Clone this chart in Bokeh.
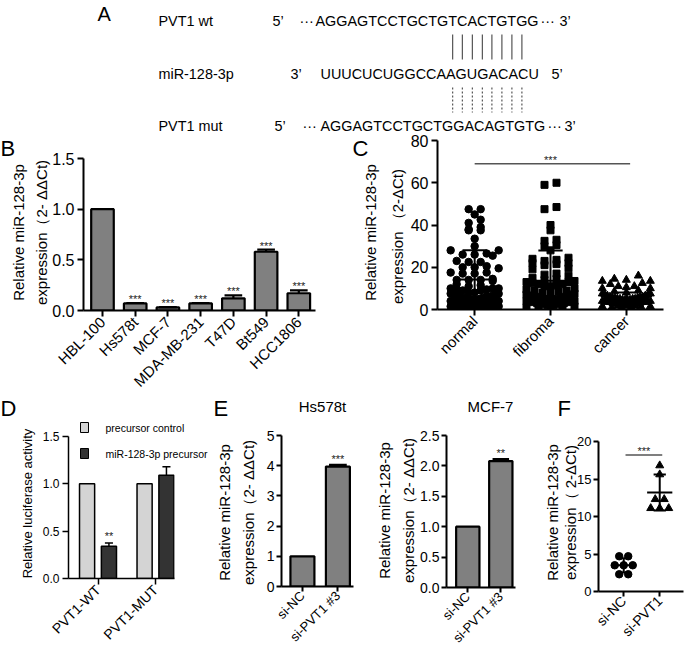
import math
from bokeh.plotting import figure
from bokeh.models import Range1d, FixedTicker, ColumnDataSource, PrintfTickFormatter
from bokeh.core.properties import value
from bokeh.embed import file_html
from bokeh.resources import INLINE

# ---------------- data ----------------
# Panel A
seq_row_labels = ["PVT1 wt", "miR-128-3p", "PVT1 mut"]
seq_wt = "AGGAGTCCTGCTGTCACTGTGG"
seq_mir = "UUUCUCUGGCCAAGUGACACU"
seq_mut = "AGGAGTCCTGCTGGACAGTGTG"
pair_idx = list(range(13, 21))

# Panel B
b_cells = ["HBL-100", "Hs578t", "MCF-7", "MDA-MB-231", "T47D", "Bt549", "HCC1806"]
b_vals = [1.0, 0.07, 0.03, 0.07, 0.12, 0.58, 0.17]
b_err = [0.0, 0.004, 0.004, 0.004, 0.03, 0.02, 0.028]
b_sig = ["", "***", "***", "***", "***", "***", "***"]
b_yticks = [0, 0.5, 1.0, 1.5]

# Panel C
c_groups = ["normal", "fibroma", "cancer"]
c_normal = [47.5, 47.5, 45, 42.5, 41, 39, 38, 37.5, 37.5, 33.5, 30, 28, 28, 26.5, 26, 26, 25.5,
            23, 22.5, 22.5, 20.5, 20, 20, 19.5, 17.5, 17.5, 17, 17, 14.5, 14, 14, 14, 13.5, 12, 11.5, 11,
            10, 10, 10, 9.5, 9.5, 9, 9, 8, 8, 7.5, 7.5, 7, 7, 6.5, 6.5, 6, 6, 6, 5.5, 5.5, 5, 5, 5,
            4.5, 4.5, 4, 4, 4, 3.5, 3.5, 3, 3, 3, 2.5, 2.5, 2, 2, 2, 1.5, 1.5, 1, 1, 1, 0.5, 0.5, 0.5, 0.5]
c_fibroma = [60, 59, 48.5, 47.5, 40, 37.5, 33, 32.5, 30.5, 30, 28, 24.5, 24, 23.5, 23, 22, 22, 21.5, 21,
             19.5, 19, 17, 16.5, 16, 15, 14.5, 14, 13.5, 13, 13, 12.5, 12, 12, 11.5, 11, 11,
             10, 9.5, 9, 9, 8.5, 8, 8, 7.5, 7, 7, 6.5, 6, 6, 5.5, 5.5, 5, 5, 4.5, 4.5, 4, 4,
             3.5, 3.5, 3, 3, 2.5, 2.5, 2, 2, 1.5, 1, 1, 0.5, 0.5]
c_cancer = [16, 14.5, 14, 13.5, 13.5, 12.5, 12, 11, 11, 10.5, 10, 10, 9, 8.5, 8, 7.5, 7.5, 7, 7, 6.5, 6.5,
            6, 6, 6, 5.5, 5.5, 5.5, 5, 5, 5, 5, 4.5, 4.5, 4.5, 4.5, 4, 4, 4, 4, 3.5, 3.5, 3.5, 3.5,
            3, 3, 3, 3, 2.5, 2.5, 2.5, 2, 2, 2, 2, 1.5, 1.5, 1.5, 1, 1, 1]
c_mean = [14.2, 13.6, 4.4]
c_sd = [13.8, 14.3, 3.6]
c_yticks = [0, 20, 40, 60, 80]
c_sig = "***"
c_sig_y = 69

# Panel D
d_groups = ["PVT1-WT", "PVT1-MUT"]
d_series = ["precursor control", "miR-128-3p precursor"]
d_colors = ["#d4d4d4", "#333333"]
d_ctrl = [1.0, 1.0]
d_mir = [0.34, 1.09]
d_mir_err = [0.035, 0.09]
d_sig = ["**", ""]
d_yticks = [0, 0.5, 1.0, 1.5]

# Panel E
e_titles = ["Hs578t", "MCF-7"]
e_groups = ["si-NC", "si-PVT1 #3"]
e1_vals = [1.0, 3.97]
e1_err = [0.0, 0.06]
e1_sig = ["", "***"]
e1_yticks = [0, 1, 2, 3, 4, 5]
e2_vals = [1.0, 2.08]
e2_err = [0.0, 0.03]
e2_sig = ["", "**"]
e2_yticks = [0, 0.5, 1.0, 1.5, 2.0, 2.5]

# Panel F
f_groups = ["si-NC", "si-PVT1"]
f_nc = [4.7, 4.7, 3.5, 3.5, 3.5, 2.3, 2.3]
f_pvt1 = [16.8, 15.6, 12.3, 12.3, 11.1, 11.1, 11.1]
f_mean = [3.5, 13.2]
f_sd = [0.95, 2.4]
f_yticks = [0, 5, 10, 15, 20]
f_sig = "***"
f_sig_y = 18.2

# ---------------- helpers ----------------
W, H = 685, 651
FONT = "Liberation Sans"


def panel(region, frame, xr, yr):
    rx0, ry0, rx1, ry1 = region
    fx0, fy0, fx1, fy1 = frame
    left, right, top, bottom = fx0 - rx0, rx1 - fx1, fy0 - ry0, ry1 - fy1
    fw, fh = fx1 - fx0, fy1 - fy0
    p = figure(width=rx1 - rx0, height=ry1 - ry0, frame_width=fw, frame_height=fh,
               min_border_left=left, min_border_right=right, min_border_top=top, min_border_bottom=bottom,
               x_range=Range1d(*xr), y_range=Range1d(*yr), output_backend="svg",
               toolbar_location=None, title=None)
    p.styles = {"position": "absolute", "left": f"{rx0}px", "top": f"{ry0}px"}
    p.grid.visible = False
    p.outline_line_color = None
    p.background_fill_color = "white"
    p.border_fill_color = "white"
    return p


def style_axes(p, xticks, xlabels, yticks, yfmt, ytick_fs, xtick_fs, lw=2.0, tick_out=6, standoff=3):
    xa, ya = p.xaxis[0], p.yaxis[0]
    for ax in (xa, ya):
        ax.axis_line_width = lw
        ax.axis_line_color = "black"
        ax.major_tick_line_width = lw
        ax.major_tick_line_color = "black"
        ax.major_tick_out = tick_out
        ax.major_tick_in = 0
        ax.minor_tick_out = 0
        ax.minor_tick_in = 0
        ax.major_label_text_color = "black"
        ax.major_label_text_font = FONT
        ax.major_label_standoff = standoff
    ya.ticker = FixedTicker(ticks=yticks)
    ya.formatter = PrintfTickFormatter(format=yfmt)
    ya.major_label_text_font_size = f"{ytick_fs}px"
    xa.ticker = FixedTicker(ticks=xticks)
    xa.major_label_overrides = {int(t): l for t, l in zip(xticks, xlabels)}
    xa.major_label_orientation = math.pi / 4
    xa.major_label_text_font_size = f"{xtick_fs}px"


def px_to_data_y(p, frame, px):
    return px * (p.y_range.end - p.y_range.start) / (frame[3] - frame[1])


def bars(p, xs, tops, width, fill, lw):
    src = ColumnDataSource(dict(x=xs, top=tops))
    return p.vbar(x="x", top="top", bottom=0, width=width, source=src, fill_color=fill,
                  line_color="black", line_width=lw)


def errbars(p, xs, tops, errs, capw, lw):
    sel = [(x, t, e) for x, t, e in zip(xs, tops, errs) if e > 0]
    src = ColumnDataSource(dict(x=[s[0] for s in sel], y0=[s[1] for s in sel],
                                y1=[s[1] + s[2] for s in sel],
                                xl=[s[0] - capw for s in sel], xr=[s[0] + capw for s in sel]))
    p.segment("x", "y0", "x", "y1", source=src, line_color="black", line_width=lw)
    p.segment("xl", "y1", "xr", "y1", source=src, line_color="black", line_width=lw)


def stars(p, xs, ys, texts, size):
    src = ColumnDataSource(dict(x=xs, y=ys, t=texts))
    p.text("x", "y", text="t", source=src, text_align="center", text_baseline="alphabetic",
           text_font=value(FONT), text_font_size=value(f"{size}px"), text_color="#222222")


def swarm(vals, center, bin_w, gmax_px, wmax_px, px_per_unit):
    rows = {}
    for v in vals:
        rows.setdefault(round(v / bin_w), []).append(v)
    xs, ys = [], []
    for k in sorted(rows):
        vs = sorted(rows[k])
        n = len(vs)
        gap = gmax_px if n < 2 else min(gmax_px, wmax_px / (n - 1))
        slots = sorted(range(n), key=lambda i: (abs(i - (n - 1) / 2), i))
        for v, slot in zip(vs, slots):
            xs.append(center + (slot - (n - 1) / 2) * gap / px_per_unit)
            ys.append(v)
    return xs, ys


def mean_sd(p, centers, means, sds, mw, cw, lw):
    lo = [max(m - s, 0) for m, s in zip(means, sds)]
    hi = [m + s for m, s in zip(means, sds)]
    p.segment(x0=[c - mw for c in centers], y0=means, x1=[c + mw for c in centers], y1=means,
              line_color="black", line_width=lw)
    p.segment(x0=centers, y0=lo, x1=centers, y1=hi, line_color="black", line_width=lw)
    p.segment(x0=[c - cw for c in centers], y0=hi, x1=[c + cw for c in centers], y1=hi,
              line_color="black", line_width=lw)
    p.segment(x0=[c - cw for c in centers], y0=lo, x1=[c + cw for c in centers], y1=lo,
              line_color="black", line_width=lw)


# ---------------- overlay figure for free text (page coordinates) ----------------
ov = figure(width=W, height=H, frame_width=W, frame_height=H, min_border=0,
            x_range=Range1d(0, W), y_range=Range1d(0, H), x_axis_type=None, y_axis_type=None,
            output_backend="svg", toolbar_location=None, title=None)
ov.styles = {"position": "absolute", "left": "0px", "top": "0px", "z-index": "5"}
ov.grid.visible = False
ov.outline_line_color = None
ov.background_fill_alpha = 0
ov.border_fill_alpha = 0


def otext(x, y, t, size, angle=0.0, align="left", baseline="middle"):
    ov.text(x=[x], y=[H - y], text=[t], angle=angle, text_align=align, text_baseline=baseline,
            text_font=value(FONT), text_font_size=value(f"{size}px"), text_color="black")


VERT = math.pi / 2

# ---------------- Panel A (drawn on the overlay) ----------------
AW = {"A": 0.667, "C": 0.722, "G": 0.778, "T": 0.611, "U": 0.722}
A_FS = 14.4
row_y = [20, 73, 125]
DOTS = "\u00b7\u00b7\u00b7"
otext(97, 2, "A", 20, baseline="top")
for lbl, ry in zip(seq_row_labels, row_y):
    otext(158, ry, lbl, A_FS)
for x, t in [(272, "5\u2019"), (299, DOTS), (315, seq_wt), (540, DOTS), (559, "3\u2019")]:
    otext(x, row_y[0], t, A_FS)
for x, t in [(290, "3\u2019"), (320, seq_mir), (551, "5\u2019")]:
    otext(x, row_y[1], t, A_FS)
for x, t in [(274, "5\u2019"), (302, DOTS), (320, seq_mut), (547, DOTS), (564, "3\u2019")]:
    otext(x, row_y[2], t, A_FS)
cum = [0.0]
for ch in seq_wt:
    cum.append(cum[-1] + AW[ch] * A_FS)
pair_x = [315 + (cum[i] + cum[i + 1]) / 2 for i in pair_idx]
n = len(pair_x)
ov.segment(x0=pair_x, y0=[H - 34] * n, x1=pair_x, y1=[H - 59] * n, line_color="#333333", line_width=1)
ov.segment(x0=pair_x, y0=[H - 87] * n, x1=pair_x, y1=[H - 112] * n, line_color="#333333",
           line_width=1, line_dash="2 2")

# ---------------- Panel B ----------------
regB, frB = (0, 133, 330, 397), (83, 158, 315, 310)
pb = panel(regB, frB, (-0.58, 6.51), (0, 1.5))
bx = list(range(len(b_cells)))
bars(pb, bx, b_vals, 0.69, "#808080", 2.2)
errbars(pb, bx, b_vals, b_err, 0.27, 2.2)
dy = px_to_data_y(pb, frB, 4)
stars(pb, [x for x, s in zip(bx, b_sig) if s],
      [v + e + dy for v, e, s in zip(b_vals, b_err, b_sig) if s], [s for s in b_sig if s], 11)
style_axes(pb, bx, b_cells, b_yticks, "%.1f", 16, 15)
otext(0, 135, "B", 22, baseline="top")
otext(17.5, 232, "Relative miR-128-3p", 15, VERT, "center")
otext(40.5, 232, "expression\uff082- \u0394\u0394Ct)", 15, VERT, "center")

# ---------------- Panel C ----------------
regC, frC = (330, 133, 685, 397), (437, 140, 663, 309)
pc = panel(regC, frC, (-0.49, 2.49), (0, 80))
ppu = (frC[2] - frC[0]) / 2.98
for i, (vals, marker, size) in enumerate([(c_normal, "circle", 7.5), (c_fibroma, "square", 7),
                                           (c_cancer, "triangle", 8)]):
    xs, ys = swarm(vals, i, 3.0, 12, 48, ppu)
    pc.scatter(xs, ys, marker=marker, size=size, fill_color="black", line_color="black")
mean_sd(pc, [0, 1, 2], c_mean, c_sd, 0.21, 0.16, 2)
pc.segment(x0=[0], y0=[c_sig_y], x1=[2.05], y1=[c_sig_y], line_color="#555555", line_width=1.5)
stars(pc, [1.0], [c_sig_y + px_to_data_y(pc, frC, 4)], [c_sig], 11)
style_axes(pc, [0, 1, 2], c_groups, c_yticks, "%d", 16, 15)
otext(352, 135, "C", 22, baseline="top")
otext(370, 232, "Relative miR-128-3p", 15, VERT, "center")
otext(397, 236, "expression \uff082-\u0394Ct)", 15, VERT, "center")

# ---------------- Panel D ----------------
regD, frD = (0, 397, 205, 651), (68, 436, 174, 578)
pd = panel(regD, frD, (-0.513, 1.33), (0, 1.5))
dx = [0, 1]
off, bw = 0.19, 0.263
bars(pd, [x - off for x in dx], d_ctrl, bw, d_colors[0], 1.5)
bars(pd, [x + off for x in dx], d_mir, bw, d_colors[1], 1.5)
errbars(pd, [x + off for x in dx], d_mir, d_mir_err, 0.07, 1.5)
stars(pd, [x + off for x, s in zip(dx, d_sig) if s],
      [v + e + px_to_data_y(pd, frD, 7) for v, e, s in zip(d_mir, d_mir_err, d_sig) if s],
      [s for s in d_sig if s], 11)
style_axes(pd, dx, d_groups, d_yticks, "%.1f", 12, 14, lw=1.5)
otext(0, 395, "D", 22, baseline="top")
otext(26.5, 503, "Relative luciferase activity", 13, VERT, "center")
leg_y = [427, 453]
ov.rect(x=[84, 84], y=[H - v for v in leg_y], width=8, height=10, fill_color=d_colors,
        line_color="black", line_width=1)
for t, ly in zip(d_series, leg_y):
    otext(105, ly, t, 10.5)

# ---------------- Panel E ----------------
regE1, frE1 = (205, 397, 370, 651), (281, 435, 353, 586)
pe1 = panel(regE1, frE1, (-0.59, 1.44), (0, 5))
ex = [0, 1]
bars(pe1, ex, e1_vals, 0.676, "#808080", 2.2)
errbars(pe1, ex, e1_vals, e1_err, 0.25, 2.2)
stars(pe1, [x for x, s in zip(ex, e1_sig) if s],
      [v + e + px_to_data_y(pe1, frE1, 6) for v, e, s in zip(e1_vals, e1_err, e1_sig) if s],
      [s for s in e1_sig if s], 11)
style_axes(pe1, ex, e_groups, e1_yticks, "%d", 14, 13, tick_out=5, standoff=2)
otext(213, 395, "E", 22, baseline="top")
otext(322, 406, e_titles[0], 15, align="center")
otext(224, 512, "Relative miR-128-3p", 15, VERT, "center")
otext(247.5, 512, "expression\uff082- \u0394\u0394Ct)", 15, VERT, "center")

regE2, frE2 = (370, 397, 545, 651), (446, 435, 515, 587)
pe2 = panel(regE2, frE2, (-0.645, 1.445), (0, 2.5))
bars(pe2, ex, e2_vals, 0.706, "#808080", 2.2)
errbars(pe2, ex, e2_vals, e2_err, 0.25, 2.2)
stars(pe2, [x for x, s in zip(ex, e2_sig) if s],
      [v + e + px_to_data_y(pe2, frE2, 6) for v, e, s in zip(e2_vals, e2_err, e2_sig) if s],
      [s for s in e2_sig if s], 11)
style_axes(pe2, ex, e_groups, e2_yticks, "%.1f", 14, 13, tick_out=5, standoff=2)
otext(490, 406, e_titles[1], 15, align="center")
otext(384, 510, "Relative miR-128-3p", 15, VERT, "center")
otext(407.5, 510, "expression\uff082- \u0394\u0394Ct)", 15, VERT, "center")

# ---------------- Panel F ----------------
regF, frF = (545, 397, 685, 651), (598, 441, 683, 591)
pf = panel(regF, frF, (-0.70, 1.66), (0, 20))
fppu = (frF[2] - frF[0]) / 2.36
for i, (vals, marker, size) in enumerate([(f_nc, "circle", 7.5), (f_pvt1, "triangle", 8)]):
    xs, ys = swarm(vals, i, 1.0, 9, 40, fppu)
    pf.scatter(xs, ys, marker=marker, size=size, fill_color="black", line_color="black")
mean_sd(pf, [0, 1], f_mean, f_sd, 0.35, 0.17, 2)
pf.segment(x0=[0.05], y0=[f_sig_y], x1=[1.07], y1=[f_sig_y], line_color="#555555", line_width=1.5)
stars(pf, [0.56], [f_sig_y + px_to_data_y(pf, frF, 4)], [f_sig], 11)
style_axes(pf, [0, 1], f_groups, f_yticks, "%d", 13, 14, tick_out=5, standoff=2)
otext(557, 395, "F", 22, baseline="top")
otext(552, 512, "Relative miR-128-3p", 15, VERT, "center")
otext(569.5, 512, "expression\uff08 2-\u0394Ct)", 15, VERT, "center")

roots = [pb, pc, pd, pe1, pe2, pf, ov]
open("out.html", "w").write(file_html(roots, INLINE))
